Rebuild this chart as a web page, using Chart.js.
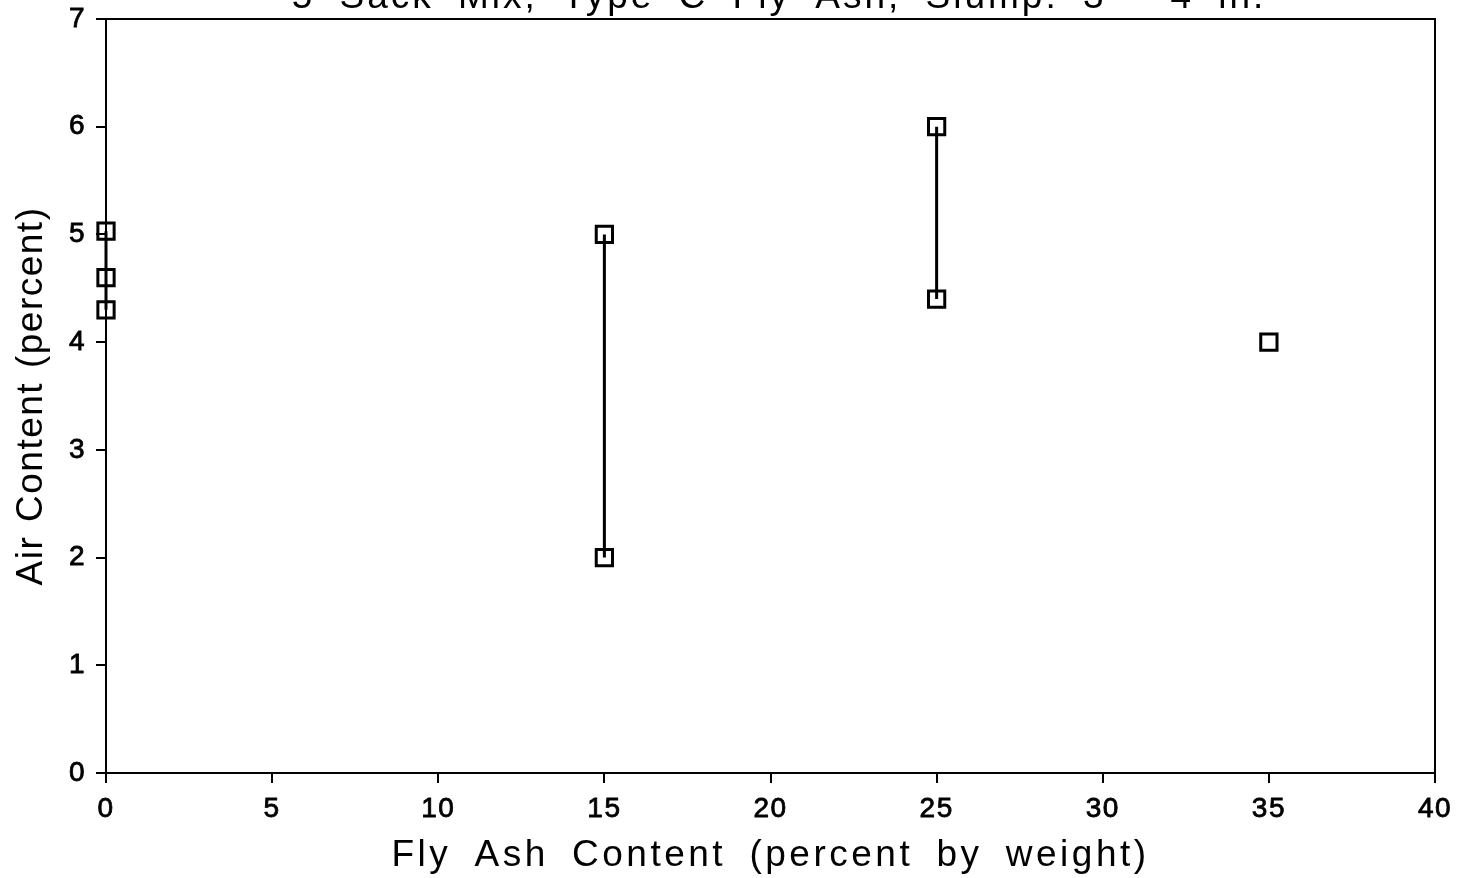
<!DOCTYPE html>
<html>
<head>
<meta charset="utf-8">
<script src="https://cdn.jsdelivr.net/npm/chart.js@4"></script>
<style>
  html, body { margin: 0; padding: 0; background: #fff; }
  #wrap { width: 1463px; height: 878px; position: relative; }
</style>
</head>
<body>
<div id="wrap"><canvas id="c"></canvas></div>
<script>
const titleText = '5 Sack Mix, Type C Fly Ash, Slump: 3 - 4 in.';
const xTitle = 'Fly Ash Content (percent by weight)';
const yTitle = 'Air Content (percent)';
const xTicks = [0, 5, 10, 15, 20, 25, 30, 35, 40];
const yTicks = [0, 1, 2, 3, 4, 5, 6, 7];
const groupAshX = [0, 15, 25, 35];
const group0Air = [5.03, 4.6, 4.3];
const group15Air = [5.0, 2.0];
const group25Air = [6.0, 4.4];
const group35Air = [4.0];
const groups = [group0Air, group15Air, group25Air, group35Air];

const FONT = "'Liberation Sans', Arial, sans-serif";

function setSpacing(ctx, ls, ws) {
  ctx.letterSpacing = ls + 'px';
  ctx.wordSpacing = ws + 'px';
}

const spacingPlugin = {
  id: 'spacing',
  afterLayout(chart) {
    const sx = chart.scales.x;
    if (sx && !sx._spacedTitle) {
      const orig = sx.drawTitle;
      sx.drawTitle = function () {
        const c = this.ctx;
        const ls = c.letterSpacing, ws = c.wordSpacing;
        setSpacing(c, 3.5, 9.5);
        orig.apply(this, arguments);
        c.letterSpacing = ls; c.wordSpacing = ws;
      };
      sx._spacedTitle = true;
    }
  },
  beforeDraw(chart) { setSpacing(chart.ctx, 1.5, 2); },
  afterDatasetsDraw(chart) {
    const { ctx, chartArea: a } = chart;
    ctx.save();
    ctx.strokeStyle = '#000';
    ctx.lineWidth = 2;
    ctx.beginPath();
    ctx.moveTo(a.left, a.top);
    ctx.lineTo(a.right, a.top);
    ctx.lineTo(a.right, a.bottom);
    ctx.stroke();
    ctx.restore();
  },
  afterDraw(chart) {
    const ctx = chart.ctx;
    ctx.save();
    setSpacing(ctx, 3, 11);
    ctx.font = '37px ' + FONT;
    ctx.fillStyle = '#000';
    ctx.textAlign = 'center';
    ctx.textBaseline = 'alphabetic';
    ctx.fillText(titleText, 779, 8);
    ctx.restore();
  }
};

const datasets = groups.map((vals, i) => ({
  data: vals.map(v => ({ x: groupAshX[i], y: v })),
  showLine: true,
  borderColor: '#000',
  borderWidth: 3,
  pointStyle: 'rect',
  pointRadius: 11.5,
  pointBorderWidth: 3,
  pointBorderColor: '#000',
  pointBackgroundColor: 'rgba(0,0,0,0)',
  clip: false
}));

new Chart(document.getElementById('c'), {
  type: 'scatter',
  data: { datasets },
  plugins: [spacingPlugin],
  options: {
    responsive: true,
    maintainAspectRatio: false,
    animation: false,
    layout: { padding: { top: 19, right: 28, left: 0, bottom: 0 } },
    plugins: { legend: { display: false }, tooltip: { enabled: false }, title: { display: false } },
    scales: {
      x: {
        type: 'linear', min: 0, max: 40,
        afterBuildTicks(s) { s.ticks = xTicks.map(v => ({ value: v })); },
        afterFit(s) { s.height = 105; s.paddingLeft = 0; s.paddingRight = 0; },
        border: { display: true, color: '#000', width: 2 },
        grid: { display: true, drawOnChartArea: false, drawTicks: true, tickLength: 10, color: '#000', lineWidth: 2 },
        ticks: { color: '#000', font: { family: FONT, size: 28 }, padding: 9, maxRotation: 0, textStrokeColor: '#000', textStrokeWidth: 0.8 },
        title: { display: true, text: xTitle, color: '#000', font: { family: FONT, size: 37 }, padding: { top: 2, bottom: 0 } }
      },
      y: {
        type: 'linear', min: 0, max: 7,
        afterBuildTicks(s) { s.ticks = yTicks.map(v => ({ value: v })); },
        afterFit(s) { s.width = 106; s.paddingTop = 0; s.paddingBottom = 0; },
        border: { display: true, color: '#000', width: 2 },
        grid: { display: true, drawOnChartArea: false, drawTicks: true, tickLength: 10, color: '#000', lineWidth: 2 },
        ticks: { color: '#000', font: { family: FONT, size: 28 }, padding: 10, textStrokeColor: '#000', textStrokeWidth: 0.8 },
        title: { display: true, text: yTitle, color: '#000', font: { family: FONT, size: 37 }, padding: { top: 10, bottom: 0 } }
      }
    }
  },
});
</script>
</body>
</html>
